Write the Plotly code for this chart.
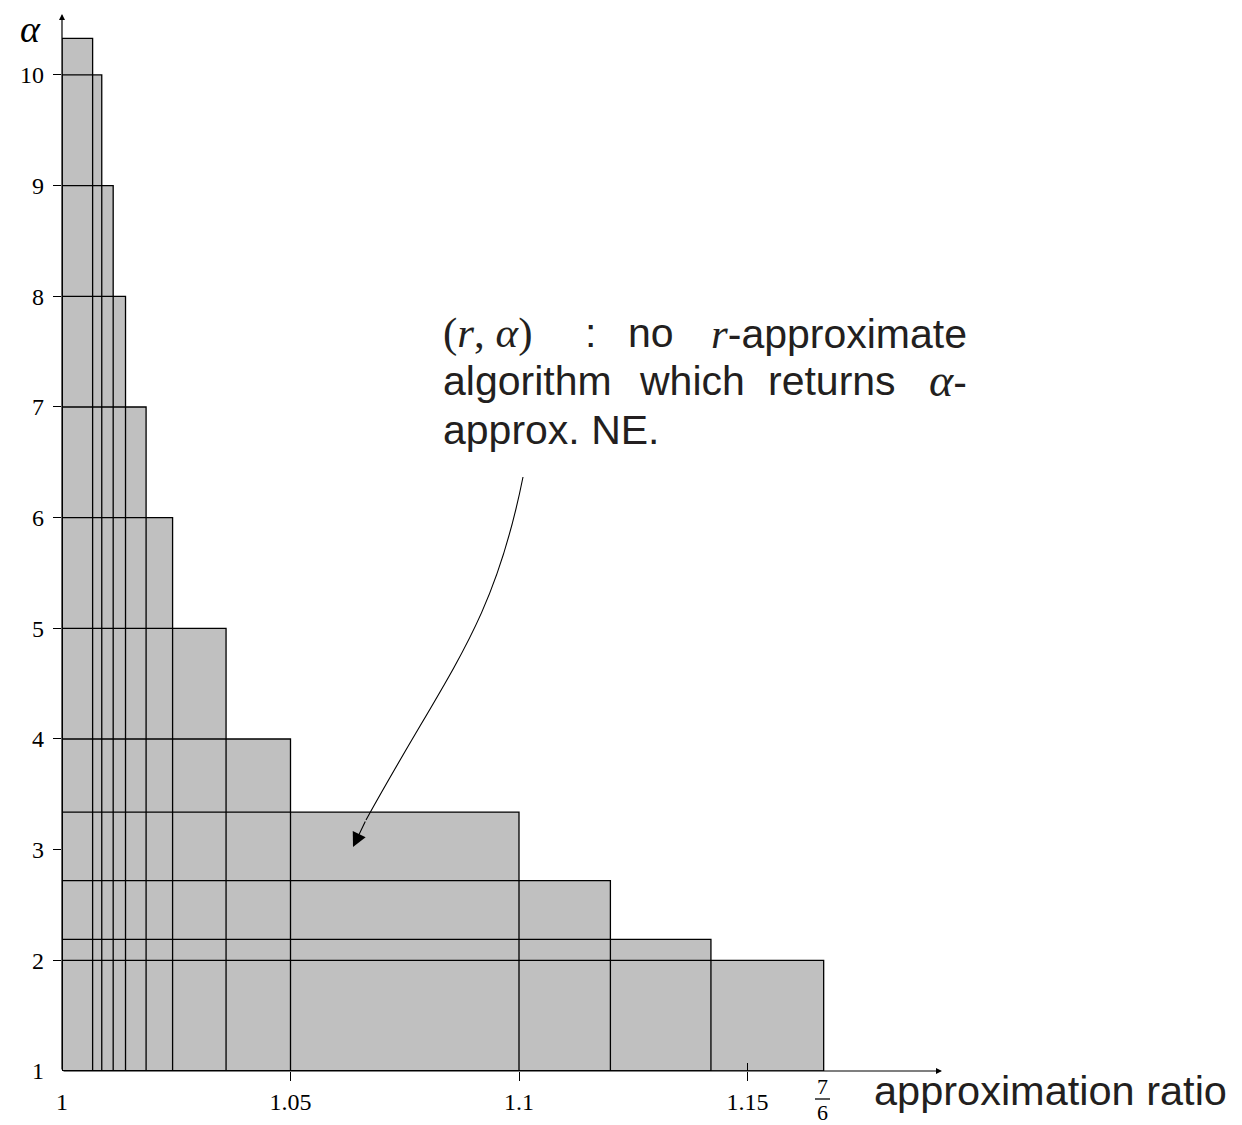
import plotly.graph_objects as go

# ---------------- data ----------------
ratio_edges = [1.0067, 1.0087, 1.0112, 1.0139, 1.0184, 1.0242, 1.0359,
               1.05, 1.10, 1.12, 1.142, 7 / 6]
alpha_tops = [10.33, 10, 9, 8, 7, 6, 5, 4, 3.34, 2.72, 2.19, 2]
r_origin = 1.0
a_origin = 1.0

x_label_vals = [1, 1.05, 1.1, 1.15, 7 / 6]
x_label_text = ["1", "1.05", "1.1", "1.15", ""]
x_out_ticks = [1.05, 1.1, 1.15]
x_in_ticks = [1.15]
y_label_vals = [1, 2, 3, 4, 5, 6, 7, 8, 9, 10]
y_tick_marks = [2, 3, 4, 5, 6, 7, 8, 9, 10]

# ---------------- layout geometry ----------------
# the page body has an 8px margin, so the figure is shrunk by that amount
OFF = 8
W, H = 1242 - OFF, 1125 - OFF
P_LEFT, P_TOP, P_RIGHT, P_BOTTOM = 62, 15, 940, 1071   # plot area on page
ML, MT = P_LEFT - OFF, P_TOP - OFF
MR, MB = (W + OFF) - P_RIGHT, (H + OFF) - P_BOTTOM
PW, PH = P_RIGHT - P_LEFT, P_BOTTOM - P_TOP
PX_PER_R = 4570.0
PX_PER_A = 110.67
x_range = [r_origin, r_origin + PW / PX_PER_R]
y_range = [a_origin, a_origin + PH / PX_PER_A]


def px(xp):
    return (xp - P_LEFT) / PW


def py(yp):
    return (P_BOTTOM - yp) / PH


GRAY = "#c0c0c0"
SERIF = "Liberation Serif"
SANS = "Liberation Sans"

fig = go.Figure()

# fills
for r, a in zip(ratio_edges, alpha_tops):
    fig.add_trace(go.Scatter(
        x=[r_origin, r, r, r_origin, r_origin],
        y=[a_origin, a_origin, a, a, a_origin],
        mode="lines", fill="toself", fillcolor=GRAY,
        line=dict(width=0, color="rgba(0,0,0,0)"),
        hoverinfo="skip", showlegend=False))

# outlines
ox, oy = [], []
for r, a in zip(ratio_edges, alpha_tops):
    ox += [r_origin, r, r, r_origin, r_origin, None]
    oy += [a_origin, a_origin, a, a, a_origin, None]
fig.add_trace(go.Scatter(x=ox, y=oy, mode="lines",
                         line=dict(color="black", width=1.3),
                         hoverinfo="skip", showlegend=False))

# empty traces to host overlay tick axes
fig.add_trace(go.Scatter(x=[None], y=[None], xaxis="x2", yaxis="y",
                         showlegend=False, hoverinfo="skip"))
fig.add_trace(go.Scatter(x=[None], y=[None], xaxis="x3", yaxis="y",
                         showlegend=False, hoverinfo="skip"))
fig.add_trace(go.Scatter(x=[None], y=[None], xaxis="x", yaxis="y2",
                         showlegend=False, hoverinfo="skip"))

tickfont = dict(family=SERIF, size=24, color="black")
plain = dict(showgrid=False, zeroline=False, showline=False, automargin=False)

fig.update_layout(
    width=W, height=H,
    margin=dict(l=ML, r=MR, t=MT, b=MB, pad=0, autoexpand=False),
    paper_bgcolor="white", plot_bgcolor="white",
    showlegend=False,
    xaxis=dict(range=x_range, tickvals=x_label_vals, ticktext=x_label_text,
               ticks="", tickfont=tickfont, ticklabelstandoff=14, **plain),
    xaxis2=dict(overlaying="x", matches="x", anchor="y", side="bottom",
                tickvals=x_out_ticks, ticks="outside", ticklen=9,
                tickwidth=1.2, tickcolor="black", showticklabels=False, **plain),
    xaxis3=dict(overlaying="x", matches="x", anchor="y", side="bottom",
                tickvals=x_in_ticks, ticks="inside", ticklen=8,
                tickwidth=1.2, tickcolor="black", showticklabels=False, **plain),
    yaxis=dict(range=y_range, tickvals=y_label_vals,
               ticktext=[str(v) for v in y_label_vals],
               ticks="", tickfont=tickfont, ticklabelstandoff=17, **plain),
    yaxis2=dict(overlaying="y", matches="y", anchor="x", side="left",
                tickvals=y_tick_marks, ticks="outside", ticklen=8,
                tickwidth=1.2, tickcolor="black", showticklabels=False, **plain),
)

ann = []
# axes with arrows
ann.append(dict(xref="paper", yref="paper", x=px(942), y=0, ax=-(942 - P_LEFT), ay=0,
                text="", showarrow=True, arrowhead=2, arrowsize=1.0,
                arrowwidth=1.2, arrowcolor="black"))
ann.append(dict(xref="paper", yref="paper", x=0, y=py(14), ax=0, ay=(P_BOTTOM - 14),
                text="", showarrow=True, arrowhead=2, arrowsize=1.0,
                arrowwidth=1.2, arrowcolor="black"))


def label(text, xp, yp, size, family, xanchor="center", color="black"):
    return dict(xref="paper", yref="paper", x=px(xp), y=py(yp),
                xanchor=xanchor, yanchor="middle", text=text, showarrow=False,
                borderpad=0, font=dict(family=family, size=size, color=color))


# axis titles
ann.append(label("<i>α</i>", 30, 29, 38, SERIF))
ann.append(label("approximation ratio", 873, 1090, 41.5, SANS, "left", "#231f20"))

# 7/6 fraction label
ann.append(label("7", 822, 1086, 22, SERIF))
ann.append(label("6", 822, 1112, 22, SERIF))

# justified explanatory text, word by word
mi = "<i>%s</i>"
sr = "<span style='font-family:Liberation Serif;font-size:43px'>%s</span>"
words = [
    (sr % ("(" + mi % "r" + ", " + mi % "α" + ")"), 442, 333, "left"),
    (":", 584, 333, "left"),
    ("no", 627, 333, "left"),
    (sr % (mi % "r") + "-approximate", 968, 333, "right"),
    ("algorithm", 442, 381, "left"),
    ("which", 638, 381, "left"),
    ("returns", 767, 381, "left"),
    ("<span style='font-family:Liberation Serif;font-size:46px'>"
     + mi % "α" + "</span>-", 968, 381, "right"),
    ("approx. NE.", 442, 430, "left"),
]
for txt, x0, y0, anc in words:
    ann.append(label(txt, x0, y0, 41, SANS, anc, "#231f20"))

# curved pointer: arrowhead
TIP = (353, 847)
TAIL = (366, 820)
ann.append(dict(xref="paper", yref="paper", x=px(TIP[0]), y=py(TIP[1]),
                ax=TAIL[0] - TIP[0], ay=TAIL[1] - TIP[1], text="",
                showarrow=True, arrowhead=2, arrowsize=2.6, arrowwidth=1.1,
                arrowcolor="black"))

fig.update_layout(annotations=ann)

# curved pointer: single cubic Bezier (start, control 1, control 2, end)
bez = [(523, 477), (493, 627), (448.5, 670), TAIL]
bp = [(px(a), py(b)) for a, b in bez]
curve_path = "M %.5f,%.5f C %.5f,%.5f %.5f,%.5f %.5f,%.5f" % (
    bp[0] + bp[1] + bp[2] + bp[3])

shapes = [
    dict(type="path", xref="paper", yref="paper", path=curve_path,
         line=dict(color="black", width=1.1)),
    dict(type="line", xref="paper", yref="paper",
         x0=px(815), x1=px(830), y0=py(1099), y1=py(1099),
         line=dict(color="black", width=1.3)),
]
fig.update_layout(shapes=shapes)

fig.write_html("out.html")
